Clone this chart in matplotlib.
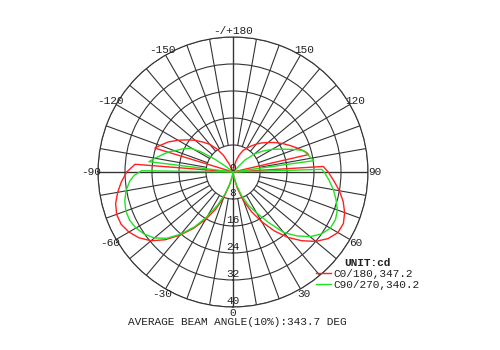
import numpy as np
import matplotlib.pyplot as plt

# Polar candela curves (angle in deg, 0 = nadir, + = right)
c0_angles = [-180, -158, -155, -150, -145, -140, -135, -130, -125, -120, -115, -110, -107,
             -105.5, -95, -94.5, -90, -85, -80, -75, -70, -65, -60, -55, -50, -45, -40,
             -35, -30, -25, -20, -15, -10, -5, 0, 5, 10, 15, 20, 25, 30, 35, 40, 45, 50,
             55, 60, 65, 70, 75, 80, 85, 90, 93.5, 94, 102.5, 103, 105, 110, 115, 120,
             125, 130, 135, 140, 145, 150, 155, 160, 165, 170, 173, 180]
c0_values = [0, 0, 2.5, 5.8, 8.3, 10.7, 12.5, 14.6, 16.6, 18.8, 21.1, 23.0, 24.2,
             0, 0, 29.1, 31.5, 33.2, 34.7, 36.0, 36.7, 36.6, 35.6, 34.0, 31.7, 28.4, 24.4,
             20.4, 16.2, 12.2, 8.0, 4.0, 1.5, 0.3, 0, 0.3, 1.5, 5.0, 9.0, 13.0, 17.0, 21.3, 25.3, 28.8, 32.0,
             34.4, 35.9, 36.1, 35.2, 33.8, 32.0, 30.0, 28.2, 26.8, 0, 0, 23.0, 22.5, 20.5, 18.6, 16.9,
             15.2, 13.6, 12.2, 10.8, 9.4, 8.2, 7.0, 5.3, 3.3, 1.2, 0, 0]

c90_angles = [-180, -130, -128, -125, -122, -119, -115, -110, -108, -105, -100, -97,
              -96.5, -91.5, -90.8, -88, -85, -80, -75, -70, -65, -60, -55, -50, -45, -40,
              -35, -30, -25, -20, -15, -10, -5, 0, 5, 10, 15, 20, 25, 30, 35, 40, 45, 50,
              55, 60, 65, 70, 75, 80, 85, 90, 91.7, 92.2, 97.5, 98, 102, 106.8, 110, 115,
              120, 125, 130, 135, 140, 180]
c90_values = [0, 0, 2.5, 7.0, 11.5, 14.5, 16.3, 18.3, 19.6, 21.0, 23.5, 25.1,
              0, 0, 27.1, 29.3, 30.7, 32.2, 33.2, 33.8, 33.8, 33.2, 32.1, 30.4, 27.8, 24.0,
              19.8, 15.2, 10.8, 7.0, 3.5, 1.5, 0.3, 0, 0.3, 1.5, 4.0, 7.5, 11.0, 14.0, 18.2, 23.4, 26.8, 29.8,
              32.0, 33.3, 33.5, 32.9, 31.6, 30.2, 28.6, 27.0, 26.3, 0, 0, 24.1, 23.0, 21.9, 19.5, 16.0,
              13.5, 10.8, 8.3, 5.0, 0, 0]

ring_values = [8, 16, 24, 32, 40]
angle_ticks = [0, 30, 60, 90, 120, 150, 180, -150, -120, -90, -60, -30]
angle_labels = ['0', '30', '60', '90', '120', '150', '-/+180', '-150', '-120', '-90', '-60', '-30']

legend_labels = ['C0/180,347.2', 'C90/270,340.2']
title = 'AVERAGE BEAM ANGLE(10%):343.7 DEG'

font = 'Liberation Mono'
grid_col = '#333333'
text_col = '#222222'

fig = plt.figure(figsize=(5, 3.5), dpi=100)
ax = fig.add_axes([0.196, 0.1229, 0.54, 0.7714], projection='polar')
ax.set_theta_zero_location('S')
ax.set_theta_direction(1)
ax.set_ylim(0, 40)
ax.set_yticks(ring_values)
ax.set_yticklabels([])
ax.set_xticks([])
ax.grid(axis='y', color=grid_col, lw=0.8)
ax.spines['polar'].set_color(grid_col)
ax.spines['polar'].set_linewidth(0.8)

# spokes every 10 deg from the first ring outward
for t in range(0, 360, 10):
    ax.plot([np.radians(t)] * 2, [8, 40], color=grid_col, lw=0.8)
# main axes through the centre
for t in [0, 90, 180, 270]:
    ax.plot([np.radians(t)] * 2, [0, 40], color=grid_col, lw=0.9)

# radial labels along the nadir line
ax.text(np.pi, 1.2, '0', ha='center', va='center', family=font, fontsize=8, color=text_col)
for v in ring_values:
    ax.text(0, v - 1.9, str(v), ha='center', va='center', family=font, fontsize=8, color=text_col)

# angle labels outside
for t, lab in zip(angle_ticks, angle_labels):
    ax.text(np.radians(t), 41.9, lab, ha='center', va='center', family=font,
            fontsize=8, color=text_col, clip_on=False)

l1, = ax.plot(np.radians(c0_angles), c0_values, color='#ff2020', lw=1.0)
l2, = ax.plot(np.radians(c90_angles), c90_values, color='#22e022', lw=1.0)

leg = fig.legend([l1, l2], legend_labels, loc='upper left', bbox_to_anchor=(0.611, 0.292),
                 frameon=False, handlelength=1.35, handletextpad=0.25, labelspacing=0.1,
                 prop={'family': font, 'size': 8}, title='UNIT:cd',
                 title_fontproperties={'family': font, 'size': 8, 'weight': 'bold'})
for t in leg.get_texts():
    t.set_color(text_col)
leg.get_title().set_color(text_col)

fig.text(0.475, 0.08, title, ha='center', va='center', family=font, fontsize=8, color=text_col)

fig.savefig('out.png', dpi=100)
